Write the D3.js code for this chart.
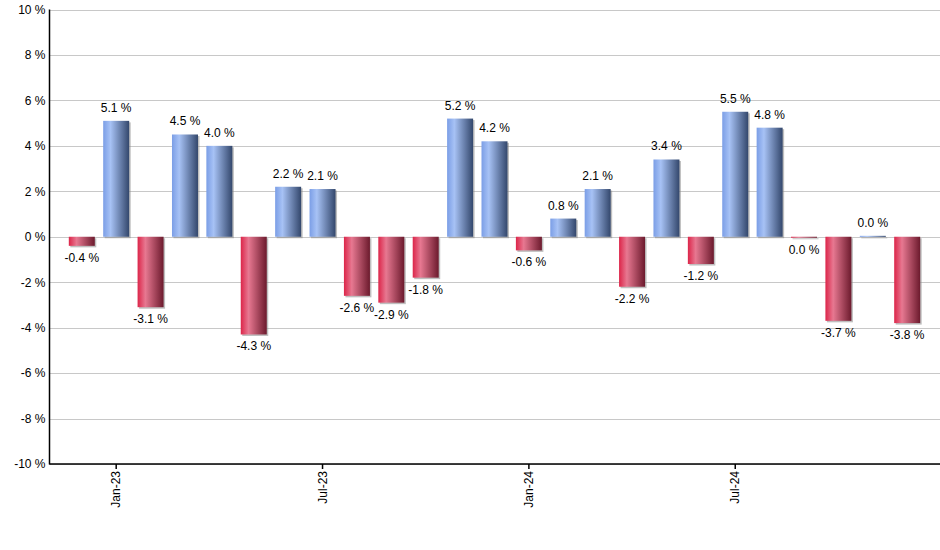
<!DOCTYPE html>
<html><head><meta charset="utf-8">
<script src="https://cdn.jsdelivr.net/npm/d3@7"></script>
<style>body{margin:0;background:#fff}svg{display:block;font-family:Arial,"Liberation Sans",sans-serif}</style>
</head><body><svg id="c" width="940" height="550"></svg>
<script>
const months = ["Dec-22","Jan-23","Feb-23","Mar-23","Apr-23","May-23","Jun-23","Jul-23","Aug-23","Sep-23","Oct-23","Nov-23","Dec-23","Jan-24","Feb-24","Mar-24","Apr-24","May-24","Jun-24","Jul-24","Aug-24","Sep-24","Oct-24","Nov-24","Dec-24"];
const values = [-0.4,5.1,-3.1,4.5,4.0,-4.3,2.2,2.1,-2.6,-2.9,-1.8,5.2,4.2,-0.6,0.8,2.1,-2.2,3.4,-1.2,5.5,4.8,-0.04,-3.7,0.04,-3.8];
const yTicks = [-10,-8,-6,-4,-2,0,2,4,6,8,10];
const xTickLabels = ["Jan-23","Jul-23","Jan-24","Jul-24"];

const svg = d3.select("#c");
const L = 49.5, R = 940, T = 9.5, B = 464;
const x = d3.scaleLinear().domain([0, months.length-1]).range([81.8, 907.2]);
const y = d3.scaleLinear().domain([-10, 10]).range([B, T]);
const bw = 26;

const defs = svg.append("defs");
function grad(id, stops){
  const g = defs.append("linearGradient").attr("id", id).attr("x1","0%").attr("x2","100%").attr("y1","0%").attr("y2","0%");
  stops.forEach(s => g.append("stop").attr("offset", s[0]).attr("stop-color", s[1]));
}
grad("gb", [["0%","#7b9ee6"],["28%","#a7c2f5"],["100%","#33476c"]]);
grad("gr", [["0%","#dc2549"],["30%","#e77891"],["100%","#6c1a2d"]]);

// gridlines
svg.append("g").selectAll("line").data(yTicks).join("line")
  .attr("x1", L).attr("x2", R).attr("y1", d => Math.round(y(d))+0.5).attr("y2", d => Math.round(y(d))+0.5)
  .attr("stroke", "#c8c8c8").attr("stroke-width", 1);

// y axis
const ya = svg.append("g").attr("transform", `translate(${L},0)`)
  .call(d3.axisLeft(y).tickValues(yTicks).tickSize(0).tickPadding(4).tickFormat(d => d + " %"));
ya.select(".domain").remove();
ya.selectAll("text").attr("font-size", 12).attr("fill", "#000").style("font-family","Arial, 'Liberation Sans', sans-serif");

// bars
const bars = svg.append("g");
values.forEach((v, i) => {
  const y0 = y(0), y1 = y(v);
  const top = Math.min(y0, y1), h = Math.max(Math.abs(y1 - y0), 1);
  bars.append("rect").attr("x", x(i) - bw/2 + 1.5).attr("y", top + 1.5).attr("width", bw).attr("height", h)
    .attr("fill", "#8a8a8a").attr("opacity", 0.55);
  bars.append("rect").attr("x", x(i) - bw/2).attr("y", top).attr("width", bw).attr("height", h)
    .attr("fill", v >= 0 ? "url(#gb)" : "url(#gr)");
});

// value labels
svg.append("g").selectAll("text").data(values).join("text")
  .attr("x", (d, i) => x(i))
  .attr("y", d => d >= 0 ? y(d) - 9 : y(d) + 16)
  .attr("text-anchor", "middle").attr("font-size", 12).attr("fill", "#000")
  .text(d => (Math.round(d*10)/10).toFixed(1) + " %");

// axes lines
svg.append("line").attr("x1", L).attr("x2", L).attr("y1", T).attr("y2", B+0.5).attr("stroke", "#000").attr("stroke-width", 1.5);
svg.append("line").attr("x1", L).attr("x2", R).attr("y1", B).attr("y2", B).attr("stroke", "#000").attr("stroke-width", 1.5);

// x ticks
const xt = svg.append("g").selectAll("g").data(xTickLabels).join("g")
  .attr("transform", d => `translate(${x(months.indexOf(d))},${B})`);
xt.append("line").attr("y1", 0).attr("y2", 5).attr("stroke", "#000").attr("stroke-width", 1.5);
xt.append("text").attr("transform", "rotate(-90)").attr("x", -7).attr("y", 4)
  .attr("text-anchor", "end").attr("font-size", 12).attr("fill", "#000").text(d => d);
</script></body></html>
